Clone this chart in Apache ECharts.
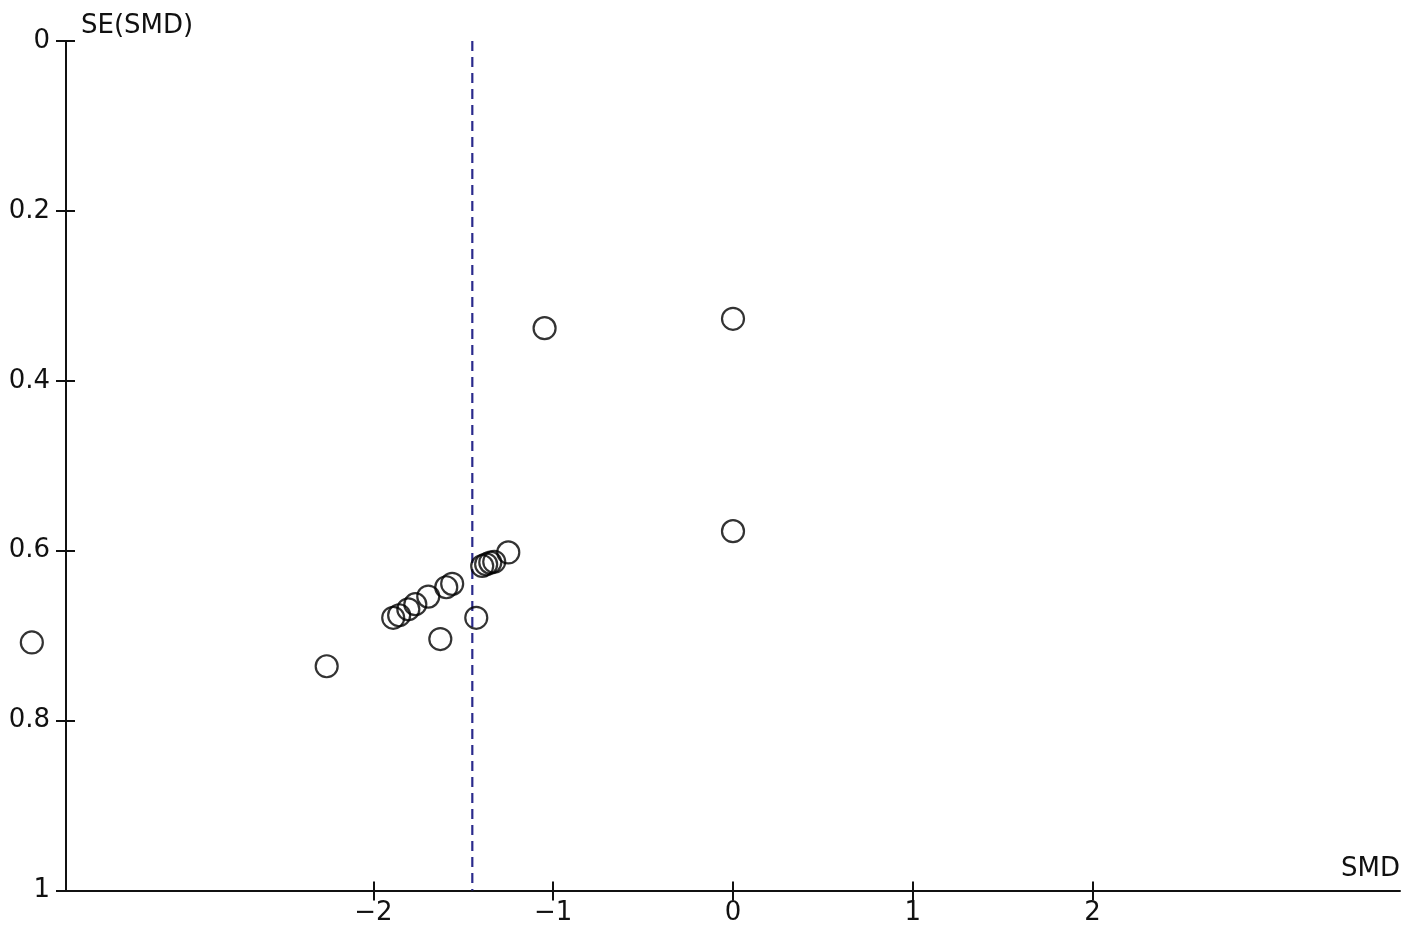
<!DOCTYPE html>
<html>
<head>
<meta charset="utf-8">
<script src="https://cdn.jsdelivr.net/npm/echarts@6/dist/echarts.min.js"></script>
<style>
  html, body { margin: 0; padding: 0; background: #fff; }
  #chart { width: 1418px; height: 932px; }
</style>
</head>
<body>
<div id="chart"></div>
<script>
// study points: [SMD, SE(SMD)]
const studyPoints = [
  [-3.90, 0.708],
  [-2.26, 0.736],
  [-1.890, 0.679],
  [-1.857, 0.676],
  [-1.806, 0.669],
  [-1.767, 0.663],
  [-1.695, 0.654],
  [-1.595, 0.643],
  [-1.562, 0.639],
  [-1.628, 0.704],
  [-1.428, 0.679],
  [-1.395, 0.618],
  [-1.373, 0.616],
  [-1.350, 0.614],
  [-1.328, 0.613],
  [-1.250, 0.602],
  [-1.048, 0.338],
  [0.0, 0.327],
  [0.0, 0.577]
]
// pooled estimate (dashed vertical line)
const pooledLine = [[-1.45, 0], [-1.45, 1]]
const xTicks = [-2, -1, 0, 1, 2]
const xRange = [-3.71, 3.71]
const yRange = [0, 1]

const font = 'DejaVu Sans'
const ink = '#111'

const chart = echarts.init(document.getElementById('chart'))

const option = {
  animation: false,
  backgroundColor: '#fff',
  grid: { left: 66, right: 18, top: 41, bottom: 41.5, containLabel: false },
  xAxis: [
    {
      type: 'value',
      position: 'bottom',
      min: xRange[0],
      max: xRange[1],
      name: 'SMD',
      nameLocation: 'end',
      nameGap: 0,
      nameTextStyle: {
        fontFamily: font, fontSize: 26, color: ink,
        align: 'right', verticalAlign: 'bottom', padding: [0, 0, 8, 0]
      },
      axisLine: { show: true, onZero: false, lineStyle: { color: ink, width: 2 } },
      axisTick: { show: true, length: 10, customValues: xTicks, lineStyle: { color: ink, width: 2 } },
      axisLabel: {
        customValues: xTicks,
        margin: 10,
        fontFamily: font, fontSize: 26, color: ink,
        formatter: v => String(v).replace('-', '\u2212')
      },
      splitLine: { show: false }
    },
    {
      // inner half of the crossing ticks
      type: 'value',
      position: 'bottom',
      min: xRange[0],
      max: xRange[1],
      axisLine: { show: false, onZero: false },
      axisTick: { show: true, inside: true, length: 9, customValues: xTicks, lineStyle: { color: ink, width: 2 } },
      axisLabel: { show: false },
      splitLine: { show: false }
    }
  ],
  yAxis: [
    {
      type: 'value',
      position: 'left',
      inverse: true,
      min: yRange[0],
      max: yRange[1],
      interval: 0.2,
      name: 'SE(SMD)',
      nameLocation: 'start',
      nameGap: 2,
      nameTextStyle: {
        fontFamily: font, fontSize: 26, color: ink,
        align: 'left', verticalAlign: 'bottom', padding: [0, 0, 0, 15]
      },
      axisLine: { show: true, onZero: false, lineStyle: { color: ink, width: 2 } },
      axisTick: { show: true, length: 10, lineStyle: { color: ink, width: 2 } },
      axisLabel: { margin: 16, fontFamily: font, fontSize: 26, color: ink },
      splitLine: { show: false }
    },
    {
      type: 'value',
      position: 'left',
      inverse: true,
      min: yRange[0],
      max: yRange[1],
      interval: 0.2,
      axisLine: { show: false, onZero: false },
      axisTick: { show: true, inside: true, length: 9, lineStyle: { color: ink, width: 2 } },
      axisLabel: { show: false },
      splitLine: { show: false }
    }
  ],
  series: [
    {
      type: 'line',
      data: pooledLine,
      symbol: 'none',
      silent: true,
      lineStyle: { color: '#2a2a8c', width: 2.2, type: [10, 6] },
      z: 1
    },
    {
      type: 'scatter',
      data: studyPoints,
      symbol: 'circle',
      symbolSize: 22,
      clip: false,
      itemStyle: { color: 'rgba(0,0,0,0)', borderColor: '#000', borderWidth: 2.2 },
      z: 2
    }
  ]
}

chart.setOption(option)
</script>
</body>
</html>
